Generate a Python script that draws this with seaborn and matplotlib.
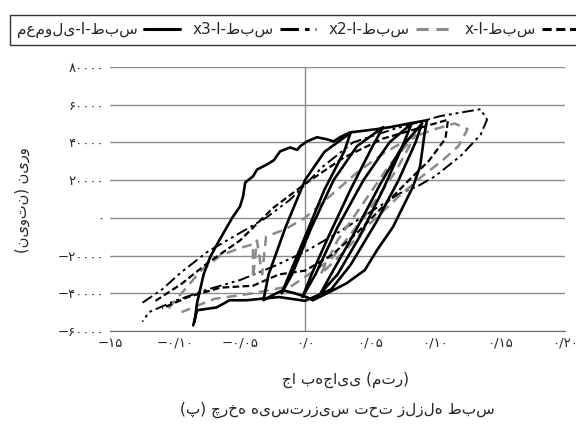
import pandas as pd
import numpy as np
import matplotlib
matplotlib.use("Agg")
import matplotlib.pyplot as plt
import seaborn as sns
from matplotlib.lines import Line2D

# ---------------------------
# DATA
# ---------------------------
LRM = '\u200e'

normal_disp = [-0.085, -0.083, -0.078, -0.073, -0.066, -0.060, -0.056, -0.050, -0.0477, -0.046,
               -0.040, -0.0369, -0.0292, -0.024, -0.0192, -0.0115, -0.006, -0.0038, 0.0015, 0.0092,
               0.0169, 0.022, 0.0269, 0.0346, 0.0423, 0.055, 0.065, 0.080, 0.0938, 0.092,
               0.0885, 0.083, 0.0677, 0.0554, 0.046, 0.032, 0.017, 0.006, 0.0015, -0.008,
               -0.017, -0.025, -0.032,
               -0.028, -0.015, 0.0, 0.015, 0.035,
               0.03, 0.015, 0.0, -0.012, -0.018,
               -0.01, 0.005, 0.022, 0.04, 0.06,
               0.052, 0.035, 0.018, 0.005, -0.002,
               0.008, 0.025, 0.045, 0.065, 0.082,
               0.075, 0.06, 0.042, 0.025, 0.012,
               0.02, 0.038, 0.058, 0.075, 0.09,
               0.085, 0.072, 0.055, 0.035, 0.02, 0.0,
               -0.02, -0.045, -0.058, -0.068, -0.083, -0.086]
normal_force = [-55000, -45000, -30000, -20800, -12000, -4800, 0, 6000, 11200, 18700,
                22000, 25600, 28300, 30500, 35200, 37300, 36000, 37900, 40500, 42700,
                41600, 40500, 42700, 45300, 45900, 47000, 48000, 50000, 51700, 45000,
                27200, 16500, -4800, -17100, -27700, -34700, -40000, -43700, -42100, -40000,
                -38400, -41000, -43700,
                -30000, -5000, 20000, 35000, 45000,
                35000, 15000, -10000, -30000, -40000,
                -30000, -5000, 20000, 38000, 48000,
                38000, 15000, -10000, -30000, -42000,
                -30000, -5000, 20000, 40000, 50000,
                38000, 15000, -10000, -30000, -40000,
                -30000, -8000, 18000, 38000, 50000,
                40000, 20000, -2000, -25000, -38000, -44000,
                -42000, -43700, -43700, -47500, -49000, -57000]

x3_disp = [-0.125, -0.11, -0.096, -0.075, -0.05, -0.03, -0.0115, 0.0138, 0.037, 0.068,
           0.104, 0.135, 0.14, 0.135, 0.12, 0.10, 0.086, 0.073, 0.05, 0.025,
           0.0, -0.025, -0.05, -0.075, -0.10, -0.12, -0.125]
x3_force = [-45000, -38000, -29300, -18000, -8000, 0, 9600, 27200, 40000, 47000,
            53900, 57600, 52000, 44000, 33000, 22000, 16500, 13000, 3000, -8000,
            -18000, -26000, -33000, -38000, -44000, -50000, -55000]

x2_disp = [-0.105, -0.09, -0.08, -0.065, -0.05, -0.04, -0.04, -0.037, -0.033, -0.03,
           -0.015, 0.0, 0.02, 0.04, 0.06, 0.08, 0.10, 0.115, 0.125, 0.118,
           0.105, 0.09, 0.07, 0.05, 0.03, 0.012, 0.025, 0.045, 0.065, 0.085,
           0.07, 0.045, 0.02, -0.01, -0.04, -0.07, -0.095]
x2_force = [-48000, -36000, -28000, -20000, -16000, -14000, -32000, -12000, -30000, -10000,
            -6000, 0, 12000, 24000, 34000, 42000, 47000, 50000, 47000, 38000,
            30000, 22000, 10000, -3000, -18000, -30000, -12000, 8000, 28000, 44000,
            25000, 0, -22000, -36000, -40000, -43000, -50000]

x1_disp = [-0.115, -0.095, -0.075, -0.05, -0.025, 0.0, 0.03, 0.06, 0.09, 0.11,
           0.108, 0.095, 0.08, 0.06, 0.04, 0.02, 0.0, -0.02, -0.04, -0.065,
           -0.09, -0.11]
x1_force = [-44000, -35000, -24000, -12000, 5000, 18000, 32000, 42000, 48000, 52000,
            42000, 30000, 20000, 6000, -8000, -20000, -28000, -30000, -36000, -37000,
            -42000, -48000]

x_ticks = [-0.15, -0.10, -0.05, 0.0, 0.05, 0.10, 0.15, 0.20]
x_tick_labels = ['−۱۵', '−۰/۱۰', '−۰/۰۵', '۰/۰', '۰/۰۵', '۰/۱۰', '۰/۱۵', '۰/۲۰']
y_ticks = [-60000, -40000, -20000, 0, 20000, 40000, 60000, 80000]
y_tick_labels = ['−۶۰۰۰۰', '−۴۰۰۰۰', '−۲۰۰۰۰', '۰', '۲۰۰۰۰', '۴۰۰۰۰', '۶۰۰۰۰', '۸۰۰۰۰']

legend_cases = ['معمولی', 'x3', 'x2', 'x']
# LRM marks keep the word order of the reference picture
legend_labels = [LRM + 'معمولی' + LRM + '-l-' + 'طبس' + LRM,
                 'x3-l-طبس', 'x2-l-طبس', 'x-l-طبس']

ylabel = LRM + '(نیوتن)' + LRM + ' نیرو' + LRM
xlabel = LRM + 'جا' + LRM + ' به\u200c' + LRM + 'جایی' + LRM + ' (متر)' + LRM
caption = LRM + '(پ)' + LRM + ' چرخه' + LRM + ' هیسترزیس' + LRM + ' تحت' + LRM + ' زلزله' + LRM + ' طبس' + LRM

# ---------------------------
# BUILD TABLE
# ---------------------------
frames = []
for name, d, f in [('x3', x3_disp, x3_force), ('x2', x2_disp, x2_force),
                   ('x', x1_disp, x1_force), ('معمولی', normal_disp, normal_force)]:
    part = pd.DataFrame({'disp': d, 'force': f})
    part['case'] = name
    frames.append(part)
df = pd.concat(frames, ignore_index=True)

colors = {'معمولی': 'black', 'x3': 'black', 'x2': '#8a8a8a', 'x': 'black'}
dashes = {'معمولی': '', 'x3': (6, 2, 1.5, 2, 1.5, 2), 'x2': (4, 2.5), 'x': (3, 1.5)}
widths = {'معمولی': 1.9, 'x3': 1.4, 'x2': 1.8, 'x': 1.6}

# ---------------------------
# PLOT
# ---------------------------
sns.set_style("white")
plt.rcParams['font.family'] = ['DejaVu Sans']

fig = plt.figure(figsize=(5.76, 4.26), dpi=100)
ax = fig.add_axes([0.191, 0.223, 0.79, 0.62])

sns.lineplot(data=df, x='disp', y='force', hue='case', style='case', size='case',
             hue_order=['x3', 'x2', 'x', 'معمولی'],
             palette=colors, dashes=dashes, sizes=widths,
             sort=False, estimator=None, units='case', legend=False, ax=ax)

ax.set_xlim(-0.15, 0.20)
ax.set_ylim(-60000, 80000)
ax.set_yticks(y_ticks)
ax.set_yticklabels(y_tick_labels, fontsize=9.5)
ax.set_xticks(x_ticks)
ax.set_xticklabels(x_tick_labels, fontsize=9.5)
ax.tick_params(length=0, pad=4)
ax.yaxis.grid(True, color='#8c8c8c', linewidth=1)
ax.set_axisbelow(True)
ax.axvline(0, color='#8c8c8c', linewidth=1, zorder=0)
for s in ['left', 'right', 'top']:
    ax.spines[s].set_visible(False)
ax.spines['bottom'].set_color('#6e6e6e')
ax.set_xlabel('')
ax.set_ylabel('')

fig.text(0.038, 0.53, ylabel, rotation=90, ha='center', va='center', fontsize=10.5)
fig.text(0.60, 0.108, xlabel, ha='center', va='center', fontsize=11)
fig.text(0.585, 0.038, caption, ha='center', va='center', fontsize=11)

# ---------------------------
# LEGEND
# ---------------------------
handles = []
for name in legend_cases:
    ls = '-' if dashes[name] == '' else (0, dashes[name])
    handles.append(Line2D([], [], color=colors[name], linestyle=ls, linewidth=2.2))
leg = fig.legend(handles, legend_labels, loc='lower left', ncol=4, markerfirst=False,
                 bbox_to_anchor=(0.017, 0.895, 1.0, 0.075), mode='expand',
                 frameon=True, fancybox=False, fontsize=11, handlelength=2.4,
                 handletextpad=0.4, columnspacing=0.8, borderaxespad=0, borderpad=0.45)
leg.get_frame().set_edgecolor('black')
leg.get_frame().set_linewidth(1.0)

fig.savefig('out.png', dpi=100)
